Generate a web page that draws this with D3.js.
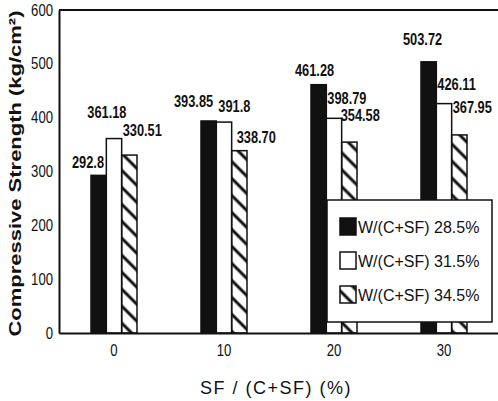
<!DOCTYPE html>
<html>
<head>
<meta charset="utf-8">
<script src="https://cdn.jsdelivr.net/npm/d3@7"></script>
<style>
  html, body { margin: 0; padding: 0; background: #fff; }
  svg { display: block; }
  .tick-label { font-family: "Liberation Sans", Arial, sans-serif; font-size: 16px; fill: #111; }
  .value-label { font-family: "Liberation Sans", Arial, sans-serif; font-size: 16px; font-weight: bold; fill: #111; }
  .legend-text { font-family: "Liberation Sans", Arial, sans-serif; font-size: 16px; fill: #111; }
  .axis-title { font-family: "Liberation Sans", Arial, sans-serif; fill: #111; }
</style>
</head>
<body>
<div id="chart"></div>
<script>
// Compressive strength vs silica fume ratio, three water/binder ratios.
const categories = ["0", "10", "20", "30"];
const seriesNames = ["W/(C+SF) 28.5%", "W/(C+SF) 31.5%", "W/(C+SF) 34.5%"];
const series285 = [292.8, 393.85, 461.28, 503.72];
const series315 = [361.18, 391.8, 398.79, 426.11];
const series345 = [330.51, 338.70, 354.58, 367.95];
const labels285 = ["292.8", "393.85", "461.28", "503.72"];
const labels315 = ["361.18", "391.8", "398.79", "426.11"];
const labels345 = ["330.51", "338.70", "354.58", "367.95"];
const yTicks = [0, 100, 200, 300, 400, 500, 600];

// label nudges (text start relative to bar left, baseline relative to bar top)
const labelNudge = [
  [[-19, -7], [-27, -14], [-16, -9], [-18, -17]],
  [[-19, -21], [2, -10], [1, -14], [1, -14]],
  [[1, -19], [5, -8], [-1, -21], [1, -22]]
];

const width = 498, height = 401;
const margin = { top: 10, right: -1, bottom: 68, left: 59 };
const innerW = width - margin.left - margin.right;
const innerH = height - margin.top - margin.bottom;

const rows = [];
[series285, series315, series345].forEach((vals, si) => {
  const labs = [labels285, labels315, labels345][si];
  vals.forEach((v, ci) => rows.push({ series: seriesNames[si], si, cat: categories[ci], ci, value: v, label: labs[ci] }));
});

// squeeze text horizontally, like the narrow lettering of the scan
function condense(sel, factor) {
  sel.each(function () {
    const w = this.getComputedTextLength();
    d3.select(this).attr("textLength", w * factor).attr("lengthAdjust", "spacingAndGlyphs");
  });
}

const svg = d3.select("#chart").append("svg")
  .attr("width", width).attr("height", height);

const defs = svg.append("defs");
defs.append("pattern")
  .attr("id", "hatch")
  .attr("patternUnits", "userSpaceOnUse")
  .attr("width", 12).attr("height", 12)
  .attr("patternTransform", "rotate(-45)")
  .append("line")
  .attr("x1", 3).attr("y1", 0).attr("x2", 3).attr("y2", 12)
  .attr("stroke", "#111").attr("stroke-width", 3);

const fills = ["#111", "#fff", "url(#hatch)"];

const plot = svg.append("g").attr("transform", `translate(${margin.left},${margin.top})`);

const x0 = d3.scaleBand().domain(categories).range([0, innerW]).paddingInner(0).paddingOuter(0);
const x1 = d3.scaleBand().domain(seriesNames).range([-23, 23]);
const y = d3.scaleLinear().domain([0, 600]).range([innerH, 0]);

const barX = d => x0(d.cat) + x0.bandwidth() / 2 + x1(d.series);

// bars
plot.append("g").selectAll("rect")
  .data(rows)
  .join("rect")
  .attr("x", barX)
  .attr("y", d => y(d.value))
  .attr("width", x1.bandwidth())
  .attr("height", d => y(0) - y(d.value))
  .attr("fill", d => fills[d.si])
  .attr("stroke", "#111")
  .attr("stroke-width", 1.5);

// value labels
plot.append("g").selectAll("text")
  .data(rows)
  .join("text")
  .attr("class", "value-label")
  .attr("x", d => barX(d) + labelNudge[d.si][d.ci][0])
  .attr("y", d => y(d.value) + labelNudge[d.si][d.ci][1])
  .text(d => d.label)
  .call(condense, 0.8);

// axes
const yAxis = d3.axisLeft(y).tickValues(yTicks).tickSize(0).tickPadding(6);
const yAxisG = plot.append("g").call(yAxis);
yAxisG.select(".domain").attr("stroke", "#111").attr("stroke-width", 2);
yAxisG.selectAll("text").attr("class", "tick-label").attr("font-size", null).attr("font-family", null);

const xAxis = d3.axisBottom(x0).tickSize(0).tickPadding(12);
const xAxisG = plot.append("g").attr("transform", `translate(0,${innerH})`).call(xAxis);
xAxisG.select(".domain").attr("stroke", "#111").attr("stroke-width", 2);
xAxisG.selectAll("text").attr("class", "tick-label").attr("font-size", null).attr("font-family", null);
svg.selectAll(".tick-label").attr("fill", "#111").call(condense, 0.82);

// top frame line
plot.append("line")
  .attr("x1", 0).attr("x2", innerW)
  .attr("y1", y(600)).attr("y2", y(600))
  .attr("stroke", "#111").attr("stroke-width", 2);

// axis titles
svg.append("text")
  .attr("class", "axis-title")
  .attr("transform", `translate(21,${margin.top + innerH / 2 + 2}) rotate(-90)`)
  .attr("text-anchor", "middle")
  .attr("font-size", 17)
  .attr("font-weight", "bold")
  .attr("textLength", 326)
  .attr("lengthAdjust", "spacingAndGlyphs")
  .text("Compressive Strength (kg/cm²)");

svg.append("text")
  .attr("class", "axis-title")
  .attr("x", 276)
  .attr("y", 394)
  .attr("text-anchor", "middle")
  .attr("font-size", 18)
  .attr("letter-spacing", "1.5px")
  .text("SF / (C+SF) (%)");

// legend
const legend = svg.append("g").attr("transform", "translate(327,200)");
legend.append("rect")
  .attr("width", 165).attr("height", 122)
  .attr("fill", "#fff").attr("stroke", "#111").attr("stroke-width", 1.5);

const legendRow = legend.selectAll("g.row")
  .data(seriesNames)
  .join("g")
  .attr("class", "row")
  .attr("transform", (d, i) => `translate(13,${27 + i * 34})`);

legendRow.append("rect")
  .attr("x", 0).attr("y", -9)
  .attr("width", 16).attr("height", 17)
  .attr("fill", (d, i) => fills[i])
  .attr("stroke", "#111").attr("stroke-width", 1.5);

legendRow.append("text")
  .attr("class", "legend-text")
  .attr("x", 18)
  .attr("y", 6)
  .text(d => d);
</script>
</body>
</html>
